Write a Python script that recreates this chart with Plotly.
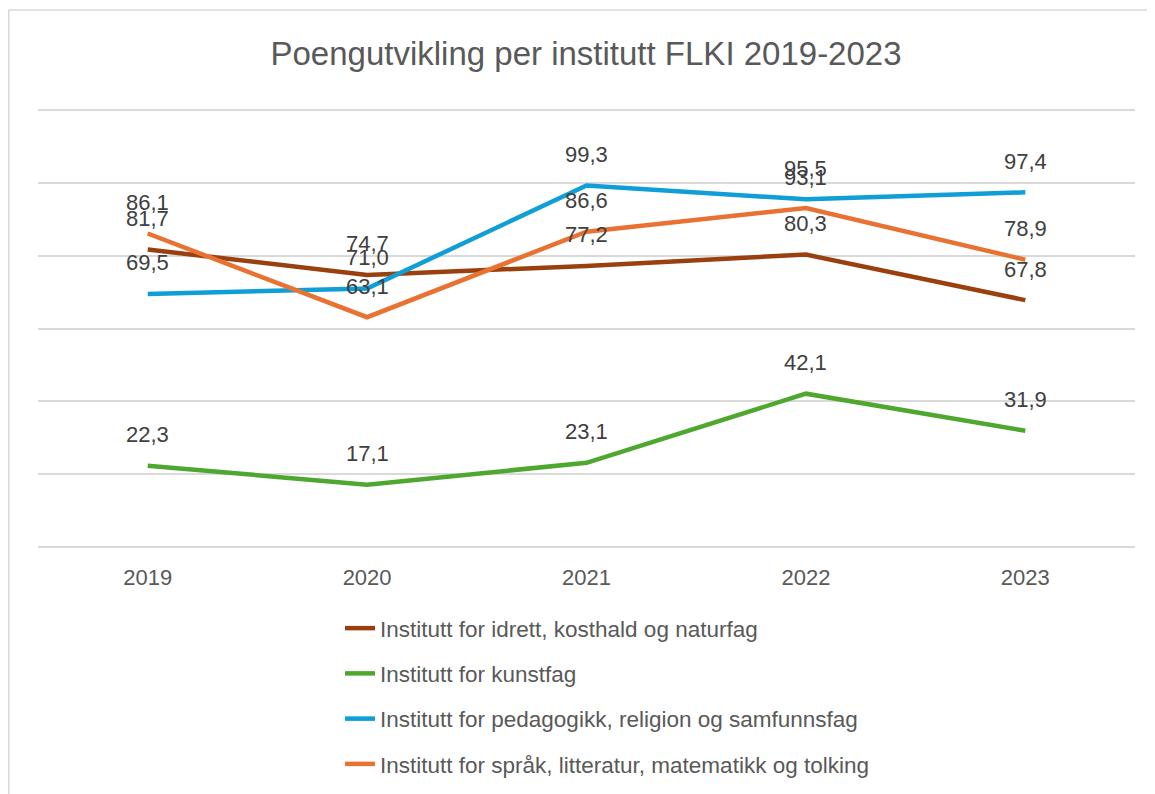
import plotly.graph_objects as go

years = ["2019", "2020", "2021", "2022", "2023"]
series_names = [
    "Institutt for idrett, kosthald og naturfag",
    "Institutt for kunstfag",
    "Institutt for pedagogikk, religion og samfunnsfag",
    "Institutt for språk, litteratur, matematikk og tolking",
]
idrett = [81.7, 74.7, 77.2, 80.3, 67.8]
kunstfag = [22.3, 17.1, 23.1, 42.1, 31.9]
pedagogikk = [69.5, 71.0, 99.3, 95.5, 97.4]
spraak = [86.1, 63.1, 86.6, 93.1, 78.9]
colors = ["#9A3F0E", "#4EA72E", "#0F9ED5", "#E97132"]

all_values = [idrett, kunstfag, pedagogikk, spraak]

FONT = "Liberation Sans"
W, H = 1147, 794          # page body has an 8px margin
L, R, T, B = 30, 20, 101, 254
pw, ph = W - L - R, H - T - B
plot_bottom = H - B

fig = go.Figure()
for i, (name, vals, col) in enumerate(zip(series_names, all_values, colors)):
    fig.add_trace(go.Scatter(
        x=years, y=vals, name=name, mode="lines",
        line=dict(color=col, width=4.5),
        legendgroup=f"g{i}",
        hoverinfo="skip",
    ))
for vals in all_values:
    for xi, yv in enumerate(vals):
        fig.add_annotation(
            x=xi, y=yv, xref="x", yref="y",
            text=f"{yv:.1f}".replace(".", ","),
            showarrow=False, yshift=31,
            font=dict(family=FONT, size=22, color="#404040"),
        )

# chart border (left and top edges visible)
fig.add_shape(type="line", xref="paper", yref="paper",
              x0=(0.8 - L) / pw, x1=(0.8 - L) / pw,
              y0=-(B + 20) / ph, y1=(plot_bottom - 2) / ph,
              line=dict(color="#D9D9D9", width=1.5))
fig.add_shape(type="line", xref="paper", yref="paper",
              x0=(0.8 - L) / pw, x1=(W + 20 - L) / pw,
              y0=(plot_bottom - 2) / ph, y1=(plot_bottom - 2) / ph,
              line=dict(color="#D9D9D9", width=1.5))

fig.update_layout(
    width=W, height=H,
    margin=dict(l=L, r=R, t=T, b=B),
    paper_bgcolor="white", plot_bgcolor="white",
    title=dict(text="Poengutvikling per institutt FLKI 2019-2023",
               x=(586 - 8) / W, xanchor="center", y=1 - 45 / H, yanchor="middle",
               font=dict(family=FONT, size=33, color="#595959")),
    xaxis=dict(type="category", range=[-0.5, 4.5], showgrid=False,
               showline=False, zeroline=False, ticks="",
               ticklabelstandoff=14,
               tickfont=dict(family=FONT, size=22, color="#595959")),
    yaxis=dict(range=[-0.3, 120.3], dtick=20, showticklabels=False,
               showgrid=True, gridcolor="#D9D9D9", gridwidth=1.5,
               zeroline=False, showline=False, fixedrange=True),
    showlegend=True,
    legend=dict(orientation="v", x=(332 - L) / pw, xanchor="left",
                y=-(599 - plot_bottom) / ph, yanchor="top",
                traceorder="grouped", tracegroupgap=13,
                font=dict(family=FONT, size=22.5, color="#595959")),
)

fig.write_html("out.html")
